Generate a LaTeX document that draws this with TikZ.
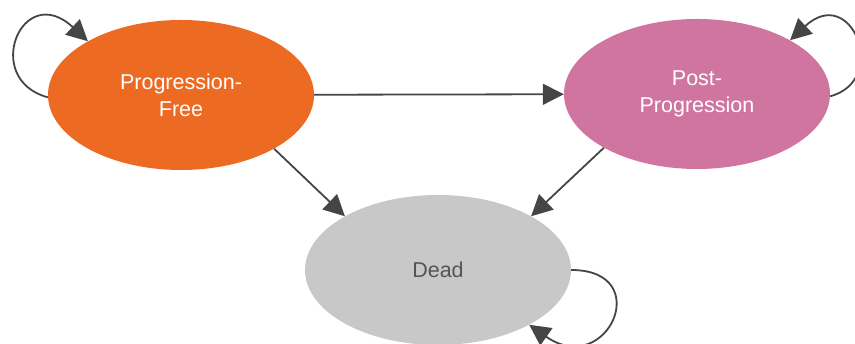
\documentclass[tikz,border=0pt]{standalone}
\usepackage{fontspec}
\setmainfont{Liberation Sans}
\usetikzlibrary{shapes.geometric,arrows.meta}
\definecolor{pfcol}{HTML}{ED6A23}
\definecolor{ppcol}{HTML}{D074A0}
\definecolor{deadcol}{HTML}{C8C8C8}
\definecolor{arrcol}{HTML}{454545}
\definecolor{deadtxt}{HTML}{555555}
\tikzset{
  state/.style={ellipse, draw=none, inner sep=0pt, minimum width=266pt, minimum height=150pt,
    align=center, font=\fontsize{21.5}{27}\selectfont},
  arr/.style={draw=arrcol, line width=1.8pt, -{Triangle[length=21pt,width=21pt]}},
}
\begin{document}
\begin{tikzpicture}[x=1pt,y=1pt]
\useasboundingbox (0,0) rectangle (855,344);
\node[state, fill=pfcol, text=white] (PF) at (181,249) {Progression-\\Free};
\node[state, fill=ppcol, text=white] (PP) at (697,250) {Post-\\Progression};
\node[state, fill=deadcol, text=deadtxt] (Dead) at (438,74) {Dead};
\draw[arr] (PF) -- (PP);
\draw[arr] (PF.-30) -- (Dead.150);
\draw[arr] (PP.210) -- (Dead.30);
\draw[arr] (PF.181) to[out=165,in=137,out distance=69pt,in distance=90pt] (PF.150);
\draw[arr] (PP.-1) to[out=15,in=43,out distance=62pt,in distance=84pt] (PP.30);
\draw[arr] (Dead.0) to[out=0,in=-35,out distance=85pt,in distance=95pt] (Dead.-31);
\end{tikzpicture}
\end{document}
